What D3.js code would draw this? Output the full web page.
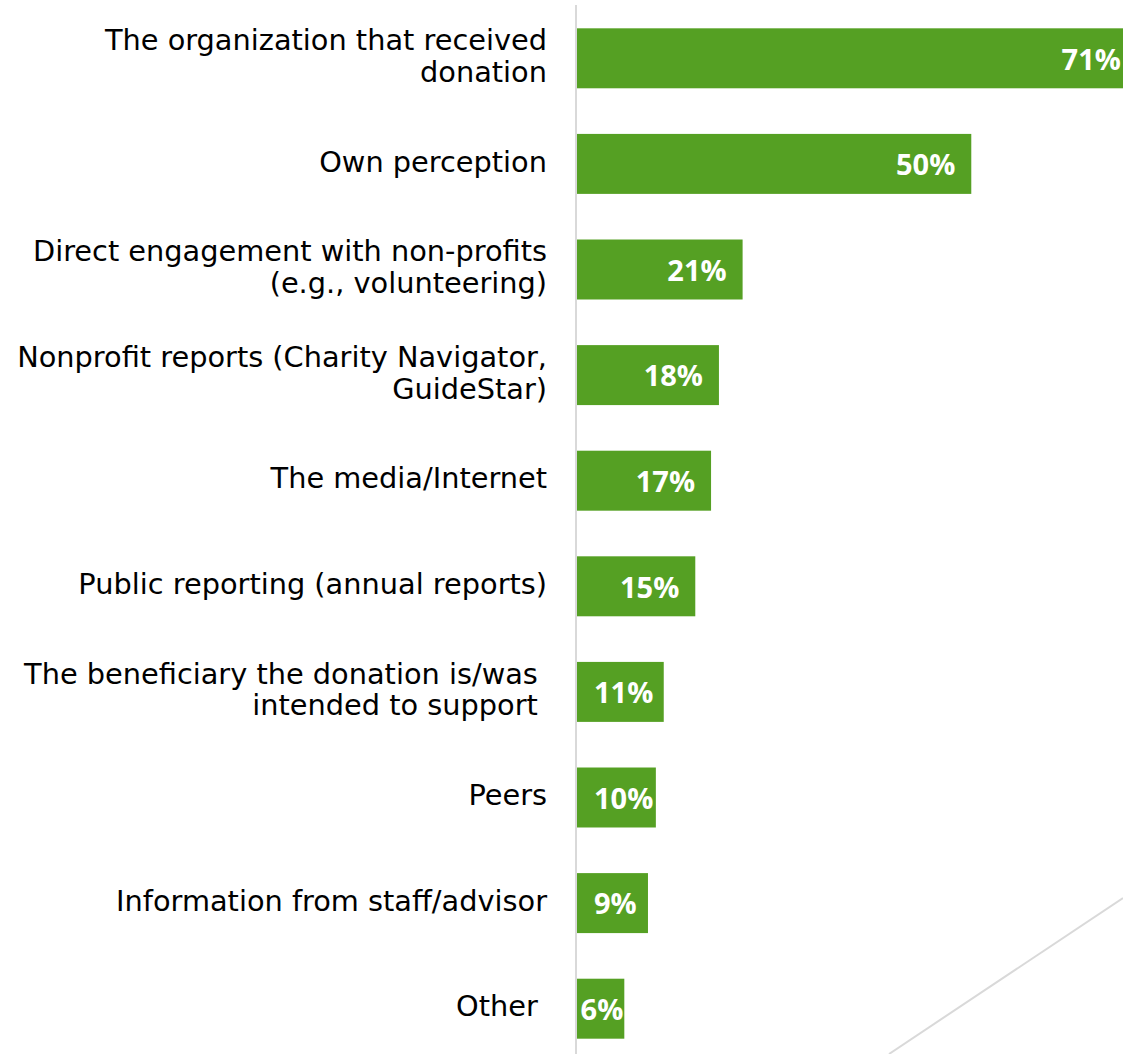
<!DOCTYPE html>
<html>
<head>
<meta charset="utf-8">
<script src="https://cdn.jsdelivr.net/npm/d3@7"></script>
<style>
  html, body { margin: 0; padding: 0; background: #fff; overflow: hidden; }
  svg { display: block; }
</style>
</head>
<body>
<svg id="chart" width="1123" height="1054"></svg>
<script>
// Sources of information about the donation's impact (share of respondents)
const categories = [
  ["The organization that received", "donation"],
  ["Own perception"],
  ["Direct engagement with non-profits", "(e.g., volunteering)"],
  ["Nonprofit reports (Charity Navigator,", "GuideStar)"],
  ["The media/Internet"],
  ["Public reporting (annual reports)"],
  ["The beneficiary the donation is/was ", "intended to support "],
  ["Peers"],
  ["Information from staff/advisor"],
  ["Other "]
];
const values = [0.71, 0.50, 0.21, 0.18, 0.17, 0.15, 0.11, 0.10, 0.09, 0.06];
const valueLabels = ["71%", "50%", "21%", "18%", "17%", "15%", "11%", "10%", "9%", "6%"];

const W = 1123, H = 1054;
const svg = d3.select("#chart");

const x0 = 577;
const x = d3.scaleLinear().domain([0, 0.7]).range([x0, 1129]);
const y = d3.scaleBand()
  .domain(d3.range(categories.length))
  .range([5.5, 1061.5])
  .paddingInner(0.432)
  .paddingOuter(0.216);

const BAR = "#55a023";
const GRID = "#d9d9d9";

// decorative diagonal rule in the lower right
svg.append("line")
  .attr("x1", 889).attr("y1", H)
  .attr("x2", W).attr("y2", 898)
  .attr("stroke", GRID).attr("stroke-width", 2);

// bars
svg.append("g").selectAll("rect")
  .data(values)
  .join("rect")
  .attr("x", x(0))
  .attr("y", (d, i) => y(i))
  .attr("width", d => x(d) - x(0))
  .attr("height", y.bandwidth())
  .attr("fill", BAR);

// category axis line
svg.append("line")
  .attr("x1", 576).attr("x2", 576)
  .attr("y1", 5).attr("y2", H)
  .attr("stroke", GRID).attr("stroke-width", 2);

// category labels, right-aligned against the axis
const lineH = 31.7;
const catG = svg.append("g")
  .attr("font-family", "'DejaVu Sans', sans-serif")
  .attr("font-size", 28.8)
  .attr("fill", "#000")
  .attr("text-anchor", "end");
categories.forEach((lines, i) => {
  const cy = y(i) + y.bandwidth() / 2;
  const t = catG.append("text")
    .attr("x", 547)
    .style("white-space", "pre");
  lines.forEach((ln, k) => {
    t.append("tspan")
      .attr("x", 547)
      .attr("y", cy + 7.7 + (k - (lines.length - 1) / 2) * lineH)
      .text(ln);
  });
});

// value labels inside the bar ends
const valG = svg.append("g")
  .attr("font-family", "'Open Sans', 'Noto Sans', sans-serif")
  .attr("font-weight", "bold")
  .attr("font-size", 29)
  .attr("fill", "#fff")
  .attr("text-anchor", "end");
values.forEach((v, i) => {
  const cy = y(i) + y.bandwidth() / 2;
  const t = valG.append("text")
    .attr("y", cy + 1)
    .attr("dy", "0.357em")
    .text(valueLabels[i]);
  const w = t.node().getComputedTextLength();
  const end = x(v);
  let xe = Math.max(end - 16, x0 + 17 + w);
  xe = Math.min(xe, end - 1);
  t.attr("x", xe);
});
</script>
</body>
</html>
